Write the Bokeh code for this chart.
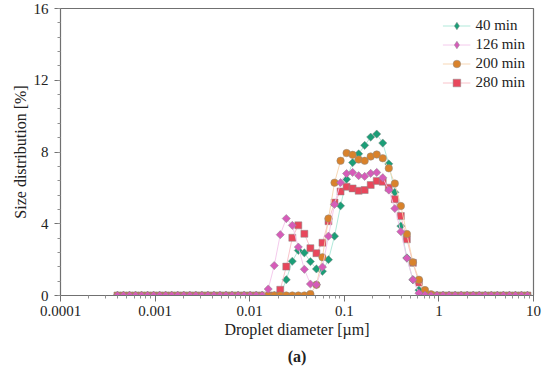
import math
from bokeh.plotting import figure
from bokeh.models import (FixedTicker, CustomJSTickFormatter, Legend, LegendItem,
                          Range1d, Title, ColumnDataSource)
from bokeh.embed import file_html
from bokeh.resources import INLINE

# Droplet diameter bins [um]
diameter = [0.0004, 0.0004632, 0.0005365, 0.0006213, 0.0007195, 0.0008332, 0.0009649,
            0.001117, 0.001294, 0.001499, 0.001736, 0.00201, 0.002328, 0.002696, 0.003122,
            0.003615, 0.004187, 0.004849, 0.005615, 0.006503, 0.007531, 0.008721, 0.0101,
            0.0117, 0.01354, 0.01569, 0.01817, 0.02104, 0.02436, 0.02821, 0.03267, 0.03784,
            0.04382, 0.05075, 0.05877, 0.06806, 0.07882, 0.09128, 0.1057, 0.1224, 0.1418,
            0.1642, 0.1901, 0.2202, 0.255, 0.2953, 0.342, 0.3961, 0.4587, 0.5312, 0.6151,
            0.7124, 0.825, 0.9554, 1.106, 1.281, 1.484, 1.718, 1.99, 2.305, 2.669, 3.091,
            3.58, 4.145, 4.801, 5.56, 6.439, 7.456, 8.635]

# Size distribution [%] for each time
d40 = [0.0] * 28 + [0.88, 1.91, 2.51, 2.38, 1.89, 1.48, 1.35, 2.0, 3.31, 5.0, 6.48, 7.41,
                    7.9, 8.37, 8.83, 9.0, 8.5, 7.34, 5.75, 3.87, 2.1, 0.88, 0.3, 0.04] + [0.0] * 17
d126 = [0.0] * 25 + [0.36, 1.67, 3.39, 4.29, 3.91, 2.7, 1.46, 0.64, 0.6, 1.59, 3.31, 5.08,
                     6.29, 6.8, 6.86, 6.68, 6.64, 6.81, 6.86, 6.57, 5.88, 4.85, 3.56, 2.08,
                     0.88, 0.13, 0.02] + [0.0] * 17
d200 = [0.0] * 32 + [0.08, 0.6, 2.13, 4.29, 6.29, 7.51, 7.94, 7.84, 7.58, 7.51, 7.75, 7.86,
                     7.65, 7.09, 6.24, 4.99, 3.43, 1.85, 0.88, 0.3, 0.07] + [0.0] * 16
d280 = [0.0] * 27 + [0.32, 1.61, 3.22, 3.91, 3.44, 2.64, 2.36, 2.94, 4.14, 5.18, 5.8, 6.06,
                     5.97, 5.84, 5.88, 6.16, 6.39, 6.34, 6.01, 5.37, 4.43, 3.13, 1.82, 0.73,
                     0.07] + [0.0] * 17

series_labels = ["40 min", "126 min", "200 min", "280 min"]
x_ticks = [0.0001, 0.001, 0.01, 0.1, 1, 10]
y_ticks = [0, 4, 8, 12, 16]

FONT = "Liberation Serif"

p = figure(width=550, height=369, x_axis_type="log", output_backend="svg",
           toolbar_location=None, min_border_left=60, min_border_right=17,
           min_border_top=8, min_border_bottom=14)
p.x_range = Range1d(0.0001, 10)
p.y_range = Range1d(0, 16)

p.xgrid.visible = False
p.ygrid.visible = False
p.outline_line_color = "#707070"
p.outline_line_width = 1.2

src = ColumnDataSource(dict(x=diameter, a=d40, b=d126, c=d200, d=d280))
# legend-only glyph source (no drawable point)
legend_src = ColumnDataSource(dict(x=[float("nan")], y=[float("nan")]))

styles = {
    "a": ("#1b9e77", "#a8e6d6", "square", 5.8, math.pi / 4, "diamond"),
    "b": ("#d65cb9", "#f3c4ea", "square", 5.8, math.pi / 4, "diamond"),
    "c": ("#d9822b", "#f6d3ad", "circle", 7.5, 0.0, None),
    "d": ("#e8475c", "#f8bcc4", "square", 7.0, 0.0, None),
}
renderers = {}
for key in ["a", "d", "c", "b"]:
    col, lcol, mk, sz, ang, legmk = styles[key]
    ln = p.line("x", key, source=src, line_color=lcol, line_width=0.9)
    sc = p.scatter("x", key, source=src, marker=mk, size=sz, angle=ang, fill_color=col,
                   line_color="#8a8a8a", line_width=0.5)
    if legmk:
        lg = p.scatter("x", "y", source=legend_src, marker=legmk, size=9,
                       fill_color=col, line_color="#8a8a8a", line_width=0.5)
        renderers[key] = [ln, lg]
    else:
        renderers[key] = [ln, sc]

items = [LegendItem(label=lab, renderers=renderers[k])
         for lab, k in zip(series_labels, ["a", "b", "c", "d"])]
legend = Legend(items=items, location="top_right")
legend.border_line_color = None
legend.background_fill_alpha = 0
legend.label_text_font = FONT
legend.label_text_font_size = "15px"
legend.label_text_color = "#222222"
legend.glyph_width = 28
legend.label_height = 19
legend.glyph_height = 19
legend.spacing = 0
legend.margin = 8
legend.padding = 10
p.add_layout(legend)

xa = p.xaxis[0]
xa.ticker = FixedTicker(ticks=x_ticks,
                        minor_ticks=[m * 10.0 ** e for e in range(-4, 1) for m in range(2, 10)])
xa.formatter = CustomJSTickFormatter(code="return tick.toString();")
ya = p.yaxis[0]
ya.ticker = FixedTicker(ticks=y_ticks, minor_ticks=[i * 0.8 for i in range(21)])

for ax in (xa, ya):
    ax.axis_line_color = "#707070"
    ax.major_tick_line_color = "#707070"
    ax.minor_tick_line_color = "#909090"
    ax.major_tick_in = 0
    ax.major_tick_out = 6
    ax.minor_tick_in = 0
    ax.minor_tick_out = 3
    ax.major_label_text_font = FONT
    ax.major_label_text_font_size = "15px"
    ax.major_label_text_color = "#222222"
    ax.axis_label_text_font = FONT
    ax.axis_label_text_font_size = "16px"
    ax.axis_label_text_font_style = "normal"
    ax.axis_label_text_color = "#222222"

xa.axis_label = "Droplet diameter [µm]"
xa.major_label_standoff = 4
xa.axis_label_standoff = 2
ya.axis_label = "Size distribution [%]"
ya.major_label_standoff = 6
ya.axis_label_standoff = 2

p.add_layout(Title(text="(a)", align="center", text_font=FONT, text_font_size="16px",
                   text_font_style="bold", text_color="#222222"), "below")

open("out.html", "w").write(file_html(p, INLINE))
